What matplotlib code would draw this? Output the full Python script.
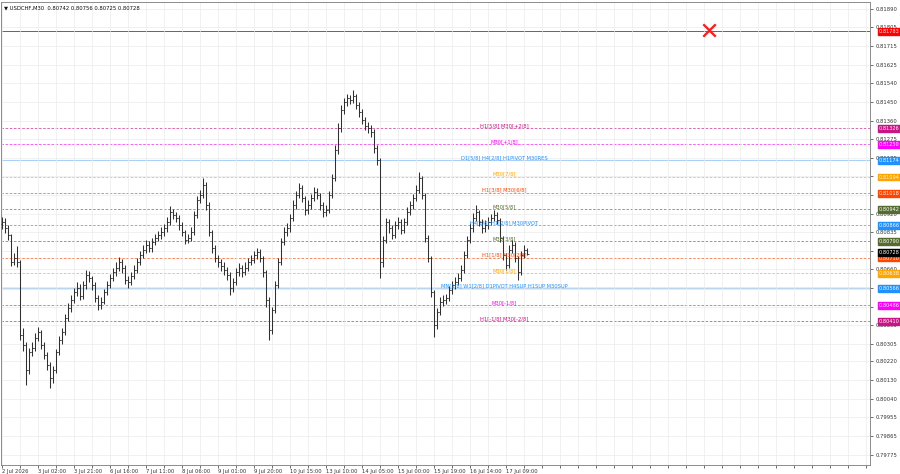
import matplotlib
matplotlib.use("Agg")
import matplotlib.pyplot as plt
import matplotlib.transforms as mtransforms

# ---------------- data ----------------
title_text = "\u25BC USDCHF,M30  0.80742 0.80756 0.80725 0.80728"
first_open = 0.80870

closes = [
    0.80881, 0.80852, 0.80819, 0.80691, 0.80710, 0.80691, 0.80345, 0.80298, 0.80179, 0.80265,
    0.80284, 0.80331, 0.80359, 0.80298, 0.80250, 0.80203, 0.80141, 0.80179, 0.80265, 0.80321,
    0.80359, 0.80426, 0.80473, 0.80511, 0.80549, 0.80568, 0.80530, 0.80582, 0.80630, 0.80615,
    0.80582, 0.80520, 0.80487, 0.80502, 0.80549, 0.80582, 0.80615, 0.80644, 0.80663, 0.80691,
    0.80663, 0.80606, 0.80596, 0.80625, 0.80653, 0.80691, 0.80724, 0.80748, 0.80772, 0.80757,
    0.80786, 0.80805, 0.80819, 0.80833, 0.80852, 0.80881, 0.80928, 0.80914, 0.80900, 0.80866,
    0.80833, 0.80795, 0.80805, 0.80833, 0.80914, 0.80985, 0.81009, 0.81056, 0.80961, 0.80833,
    0.80757, 0.80710, 0.80691, 0.80672, 0.80653, 0.80630, 0.80568, 0.80596, 0.80644, 0.80663,
    0.80644, 0.80663, 0.80691, 0.80701, 0.80724, 0.80739, 0.80710, 0.80644, 0.80511, 0.80369,
    0.80464, 0.80582, 0.80691, 0.80786, 0.80833, 0.80852, 0.80900, 0.80961, 0.81009, 0.81042,
    0.80995, 0.80938, 0.80961, 0.80995, 0.81023, 0.81009, 0.80961, 0.80928, 0.80938, 0.81009,
    0.81089, 0.81222, 0.81326, 0.81412, 0.81450, 0.81469, 0.81459, 0.81478, 0.81435, 0.81402,
    0.81364, 0.81336, 0.81326, 0.81307, 0.81232, 0.81175, 0.80691, 0.80795, 0.80881, 0.80852,
    0.80819, 0.80866, 0.80881, 0.80843, 0.80881, 0.80928, 0.80961, 0.80995, 0.81032, 0.81089,
    0.81009, 0.80805, 0.80710, 0.80549, 0.80393, 0.80454, 0.80502, 0.80511, 0.80520, 0.80558,
    0.80582, 0.80596, 0.80615, 0.80653, 0.80724, 0.80795, 0.80852, 0.80900, 0.80928, 0.80881,
    0.80852, 0.80866, 0.80881, 0.80900, 0.80914, 0.80890, 0.80805, 0.80724, 0.80677, 0.80748,
    0.80772, 0.80710, 0.80644, 0.80724, 0.80748, 0.80728,
]

highs = [
    0.80905, 0.80898, 0.80868, 0.80825, 0.80735, 0.80768, 0.80700, 0.80380, 0.80310, 0.80285,
    0.80310, 0.80355, 0.80385, 0.80370, 0.80312, 0.80265, 0.80215, 0.80200, 0.80280, 0.80340,
    0.80380, 0.80445, 0.80495, 0.80535, 0.80570, 0.80595, 0.80585, 0.80600, 0.80655, 0.80648,
    0.80625, 0.80595, 0.80535, 0.80525, 0.80565, 0.80600, 0.80635, 0.80665, 0.80690, 0.80715,
    0.80705, 0.80675, 0.80625, 0.80645, 0.80675, 0.80710, 0.80745, 0.80770, 0.80795, 0.80790,
    0.80805, 0.80825, 0.80840, 0.80855, 0.80872, 0.80905, 0.80955, 0.80945, 0.80930, 0.80915,
    0.80880, 0.80845, 0.80825, 0.80855, 0.80935, 0.81005, 0.81035, 0.81089, 0.81070, 0.80975,
    0.80845, 0.80770, 0.80725, 0.80705, 0.80690, 0.80670, 0.80645, 0.80615, 0.80665, 0.80685,
    0.80678, 0.80690, 0.80712, 0.80725, 0.80745, 0.80760, 0.80752, 0.80720, 0.80655, 0.80525,
    0.80480, 0.80600, 0.80710, 0.80805, 0.80855, 0.80875, 0.80920, 0.80985, 0.81030, 0.81065,
    0.81055, 0.81005, 0.80985, 0.81015, 0.81045, 0.81040, 0.81020, 0.80975, 0.80960, 0.81030,
    0.81110, 0.81245, 0.81350, 0.81435, 0.81470, 0.81490, 0.81485, 0.81506, 0.81490, 0.81450,
    0.81415, 0.81380, 0.81355, 0.81340, 0.81320, 0.81245, 0.81185, 0.80815, 0.80900, 0.80895,
    0.80868, 0.80885, 0.80905, 0.80895, 0.80900, 0.80950, 0.80980, 0.81015, 0.81055, 0.81118,
    0.81100, 0.81020, 0.80820, 0.80720, 0.80560, 0.80475, 0.80525, 0.80535, 0.80540, 0.80578,
    0.80600, 0.80620, 0.80640, 0.80675, 0.80745, 0.80815, 0.80875, 0.80925, 0.80961, 0.80940,
    0.80895, 0.80890, 0.80905, 0.80920, 0.80940, 0.80930, 0.80900, 0.80815, 0.80735, 0.80770,
    0.80795, 0.80785, 0.80720, 0.80745, 0.80770, 0.80756,
]

lows = [
    0.80850, 0.80830, 0.80795, 0.80672, 0.80676, 0.80670, 0.80322, 0.80270, 0.80108, 0.80160,
    0.80245, 0.80270, 0.80315, 0.80280, 0.80230, 0.80180, 0.80094, 0.80120, 0.80165, 0.80250,
    0.80305, 0.80345, 0.80410, 0.80455, 0.80495, 0.80530, 0.80510, 0.80515, 0.80565, 0.80595,
    0.80560, 0.80500, 0.80465, 0.80470, 0.80490, 0.80535, 0.80568, 0.80600, 0.80625, 0.80648,
    0.80640, 0.80585, 0.80570, 0.80580, 0.80610, 0.80640, 0.80675, 0.80710, 0.80735, 0.80740,
    0.80740, 0.80770, 0.80790, 0.80800, 0.80815, 0.80835, 0.80865, 0.80895, 0.80880, 0.80845,
    0.80815, 0.80775, 0.80780, 0.80790, 0.80820, 0.80900, 0.80970, 0.80995, 0.80940, 0.80815,
    0.80735, 0.80690, 0.80670, 0.80650, 0.80630, 0.80605, 0.80535, 0.80550, 0.80580, 0.80625,
    0.80620, 0.80628, 0.80650, 0.80675, 0.80685, 0.80705, 0.80690, 0.80620, 0.80480, 0.80322,
    0.80350, 0.80450, 0.80570, 0.80675, 0.80770, 0.80815, 0.80835, 0.80885, 0.80945, 0.80995,
    0.80975, 0.80915, 0.80920, 0.80945, 0.80980, 0.80990, 0.80940, 0.80905, 0.80910, 0.80925,
    0.80995, 0.81075, 0.81205, 0.81310, 0.81395, 0.81430, 0.81440, 0.81445, 0.81415, 0.81380,
    0.81345, 0.81315, 0.81305, 0.81285, 0.81210, 0.81150, 0.80615, 0.80670, 0.80780, 0.80830,
    0.80800, 0.80805, 0.80850, 0.80825, 0.80828, 0.80865, 0.80915, 0.80945, 0.80980, 0.81020,
    0.80990, 0.80785, 0.80690, 0.80525, 0.80336, 0.80375, 0.80440, 0.80485, 0.80490, 0.80505,
    0.80540, 0.80565, 0.80580, 0.80600, 0.80640, 0.80710, 0.80780, 0.80835, 0.80885, 0.80860,
    0.80830, 0.80835, 0.80850, 0.80865, 0.80885, 0.80870, 0.80785, 0.80700, 0.80655, 0.80665,
    0.80735, 0.80690, 0.80606, 0.80630, 0.80710, 0.80725,
]

x_tick_labels = ["2 Jul 2026", "3 Jul 02:00", "3 Jul 21:00", "6 Jul 16:00", "7 Jul 11:00",
                 "8 Jul 06:00", "9 Jul 01:00", "9 Jul 20:00", "10 Jul 15:00", "13 Jul 10:00",
                 "14 Jul 05:00", "15 Jul 00:00", "15 Jul 19:00", "16 Jul 14:00", "17 Jul 09:00"]

y_tick_values = [0.81890, 0.81805, 0.81715, 0.81625, 0.81540, 0.81450, 0.81360, 0.81275,
                 0.81185, 0.81100, 0.81010, 0.80920, 0.80835, 0.80745, 0.80660, 0.80570,
                 0.80480, 0.80395, 0.80305, 0.80220, 0.80130, 0.80040, 0.79955, 0.79865,
                 0.79775]

level_values = [0.81326, 0.81250, 0.81174, 0.81094, 0.81018, 0.80942, 0.80866,
                0.80790, 0.80710, 0.80638, 0.80566, 0.80486, 0.80410]
level_names = ["H1[5/8] M30[+2/8]", "M30[+1/8]", "D1[5/8] H4[2/8] H1PIVOT M30RES",
               "M30[7/8]", "H1[3/8] M30[6/8]", "M30[5/8]", "H4[1/8] H1[2/8] M30PIVOT",
               "M30[3/8]", "H1[1/8] M30[2/8]", "M30[1/8]",
               "MN[1/8] W1[2/8] D1PIVOT H4SUP H1SUP M30SUP", "M30[-1/8]", "H1[-1/8] M30[-2/8]"]
level_colors = ["#c71585", "#ff00ff", "#1e90ff", "#ffa500", "#ff4500", "#556b2f", "#1e90ff",
                "#556b2f", "#ff4500", "#ffa500", "#1e90ff", "#ff00ff", "#c71585"]
level_solid = [False, False, True, False, False, False, False,
               False, False, False, True, False, False]

red_line_value = 0.81785
bid_value = 0.80728
marker_bar = 235.7
marker_price = 0.81791

# ---------------- figure ----------------
fig = plt.figure(figsize=(9, 4.74), dpi=100)
ax = fig.add_axes([1 / 900, 9 / 474, 869 / 900, 463 / 474])
ax.set_facecolor("white")

n = len(closes)
xs = list(range(n))
opens = [first_open] + closes[:-1]

ax.set_xlim(-0.4, -0.4 + 869 / 3)
ax.set_ylim(0.79729, 0.81924)

# grid / ticks
xt_major = list(range(0, 290, 6))
ax.set_xticks(xt_major)
ax.set_xticklabels([x_tick_labels[i // 12] if (i % 12 == 0 and i // 12 < len(x_tick_labels)) else ""
                    for i in xt_major])
for lbl in ax.get_xticklabels():
    lbl.set_horizontalalignment("left")

box_centers = level_values + [red_line_value, bid_value + 0.00010]
ax.set_yticks(y_tick_values)
ax.set_yticklabels([("" if any(abs(v - b) < 0.00009 for b in box_centers) else f"{v:.5f}")
                    for v in y_tick_values])
ax.yaxis.tick_right()
ax.grid(True, color="#ebebeb", lw=0.5, zorder=0)
ax.tick_params(axis="x", labelsize=3.8, length=2, pad=1, colors="#333333", width=0.5)
ax.tick_params(axis="y", labelsize=3.8, length=2, pad=2, colors="#333333", width=0.5)
for s in ax.spines.values():
    s.set_color("#8c8c8c")
    s.set_linewidth(0.7)

# levels
trans = mtransforms.blended_transform_factory(ax.transAxes, ax.transData)
for v, name, col, solid in zip(level_values, level_names, level_colors, level_solid):
    if solid:
        lw = 1.0 if name.startswith("MN") else 0.8
        lc = "#4da3f5" if name.startswith("MN") else "#a8d0fa"
        ax.axhline(v, color=lc, lw=lw, zorder=1)
    else:
        ax.axhline(v, color=col, lw=0.6, ls=(0, (3, 2)), alpha=0.75, zorder=1)
    ax.text(167.3, v + 0.000015, name, color=col, fontsize=3.7, ha="center", va="bottom", zorder=4)
    ax.text(1.0104, v, f"{v:.5f}", transform=trans, color="white", fontsize=3.6,
            ha="left", va="center", clip_on=False, zorder=6,
            bbox=dict(boxstyle="square,pad=0.18", fc=col, ec=col))

# red line + label
ax.axhline(red_line_value, color="#ff0000", lw=0.6, zorder=1)
ax.text(1.0104, red_line_value, f"{red_line_value - 0.00002:.5f}", transform=trans, color="white",
        fontsize=3.6, ha="left", va="center", clip_on=False, zorder=6,
        bbox=dict(boxstyle="square,pad=0.18", fc="#ff0000", ec="#ff0000"))
ax.text(1.0104, bid_value + 0.00010, f"{bid_value:.5f}", transform=trans, color="white",
        fontsize=3.6, ha="left", va="center", clip_on=False, zorder=7,
        bbox=dict(boxstyle="square,pad=0.18", fc="#000000", ec="#000000"))

# bars
bar_col = "#303030"
ax.vlines(xs, lows, highs, color=bar_col, lw=0.75, zorder=3)
ax.hlines(opens, [x - 0.45 for x in xs], xs, color=bar_col, lw=0.6, zorder=3)
ax.hlines(closes, xs, [x + 0.45 for x in xs], color=bar_col, lw=0.6, zorder=3)

# marker
ax.scatter([marker_bar], [marker_price], marker="x", s=80, color="#ff1a1a", linewidths=1.6, zorder=5)

# title
ax.text(0.004, 0.992, title_text, transform=ax.transAxes, fontsize=3.8, ha="left", va="top",
        color="#111111", zorder=6)

fig.savefig("out.png", dpi=100)
